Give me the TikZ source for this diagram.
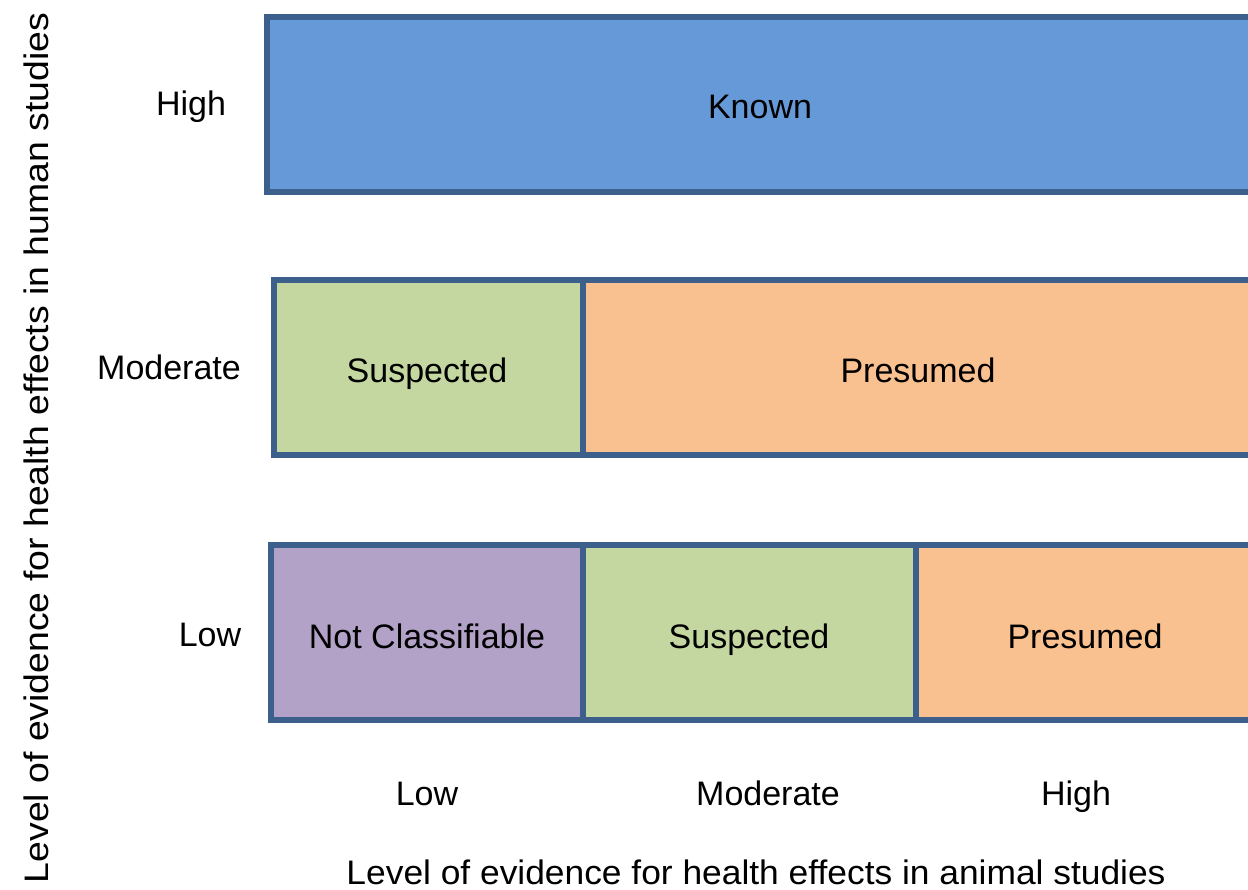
\documentclass[tikz,border=0pt]{standalone}
\usepackage{fontspec}
\setmainfont{Liberation Sans}
\definecolor{bord}{RGB}{61,95,140}
\definecolor{knownc}{RGB}{102,153,216}
\definecolor{suspc}{RGB}{196,215,160}
\definecolor{presc}{RGB}{249,192,144}
\definecolor{notc}{RGB}{178,162,199}
\begin{document}
\begin{tikzpicture}[x=1pt,y=-1pt,
  cellline/.style={draw=bord,line width=5.5pt,line join=miter},
  celltext/.style={font=\fontsize{34}{38}\selectfont,text=black,inner sep=0pt,anchor=base},
  axtext/.style={font=\fontsize{34}{38}\selectfont,text=black,inner sep=0pt,anchor=base}]
\useasboundingbox (0,0) rectangle (1248,890);
\clip (0,0) rectangle (1248,890);
% row 1
\fill[knownc] (267,17) rectangle (1270,192);
\draw[cellline] (1270,17) -- (267,17) -- (267,192) -- (1270,192);
% row 2
\fill[suspc] (274,280) rectangle (583,455);
\fill[presc] (583,280) rectangle (1270,455);
\draw[cellline] (1270,280) -- (274,280) -- (274,455) -- (1270,455);
\draw[cellline] (583,280) -- (583,455);
% row 3
\fill[notc] (271,545) rectangle (583,720);
\fill[suspc] (583,545) rectangle (916,720);
\fill[presc] (916,545) rectangle (1270,720);
\draw[cellline] (1270,545) -- (271,545) -- (271,720) -- (1270,720);
\draw[cellline] (583,545) -- (583,720);
\draw[cellline] (916,545) -- (916,720);
% cell texts
\node[celltext] (known) at (760,119) {Known};
\node[celltext] (susp2) at (427,383) {Suspected};
\node[celltext] (pres2) at (918,383) {Presumed};
\node[celltext] (notcl) at (427,648) {Not Classifiable};
\node[celltext] (susp3) at (749,648) {Suspected};
\node[celltext] (pres3) at (1085,648) {Presumed};
% row labels
\node[axtext] (yhigh) at (191,116) {High};
\node[axtext] (ymod) at (169,380) {Moderate};
\node[axtext] (ylow) at (210,646) {Low};
% column labels
\node[axtext] (xlow) at (427,805) {Low};
\node[axtext] (xmod) at (768,805) {Moderate};
\node[axtext] (xhigh) at (1076,805) {High};
% axis titles
\node[axtext] (xtitle) at (756,884) {\scalebox{1.04}[1]{Level of evidence for health effects in animal studies}};
\node[axtext,rotate=90] (ytitle) at (48,448) {\scalebox{1.1}[1]{Level of evidence for health effects in human studies}};
\end{tikzpicture}
\end{document}
